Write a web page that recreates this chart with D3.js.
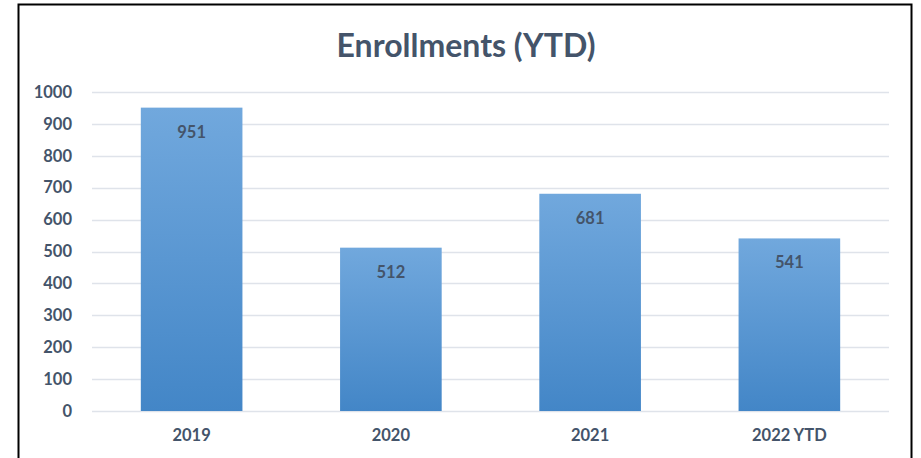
<!DOCTYPE html>
<html>
<head>
<meta charset="utf-8">
<script src="https://cdnjs.cloudflare.com/ajax/libs/d3/7.8.5/d3.min.js"></script>
<style>
  html, body { margin: 0; padding: 0; background: #fff; }
  svg { display: block; font-family: Lato, "Open Sans", sans-serif; }
</style>
</head>
<body>
<div id="chart"></div>
<script>
// Data
const categories = ['2019', '2020', '2021', '2022 YTD'];
const enrollments = [951, 512, 681, 541];
const yTicks = [0, 100, 200, 300, 400, 500, 600, 700, 800, 900, 1000];

const width = 921;
const height = 458;
const margin = { top: 92, right: 32, bottom: 47, left: 92 };
const textColor = '#44546a';
const fontStack = 'Lato, "Open Sans", sans-serif';

const svg = d3.select('#chart')
  .append('svg')
  .attr('width', width)
  .attr('height', height);

// gradient for bars
const grad = svg.append('defs').append('linearGradient')
  .attr('id', 'barGrad')
  .attr('x1', 0).attr('y1', 0).attr('x2', 0).attr('y2', 1);
grad.append('stop').attr('offset', '0%').attr('stop-color', '#71a8dd');
grad.append('stop').attr('offset', '100%').attr('stop-color', '#4386c7');

// chart frame
svg.append('rect')
  .attr('x', 18.5).attr('y', 4.5)
  .attr('width', 893).attr('height', 470)
  .attr('fill', '#fff')
  .attr('stroke', '#000')
  .attr('stroke-width', 2);

const x = d3.scaleBand()
  .domain(categories)
  .range([margin.left, width - margin.right])
  .paddingInner(0.49)
  .paddingOuter(0.245);

const y = d3.scaleLinear()
  .domain([0, 1000])
  .range([height - margin.bottom, margin.top]);

// gridlines
svg.append('g')
  .selectAll('line')
  .data(yTicks)
  .enter()
  .append('line')
  .attr('x1', margin.left)
  .attr('x2', width - margin.right)
  .attr('y1', d => Math.round(y(d)) + 0.5)
  .attr('y2', d => Math.round(y(d)) + 0.5)
  .attr('stroke', '#dfe3ea')
  .attr('stroke-width', 1.5);

// y axis labels
const yAxis = svg.append('g')
  .attr('transform', `translate(${margin.left - 20},0)`)
  .call(d3.axisLeft(y).tickValues(yTicks).tickFormat(d3.format('d')).tickSize(0).tickPadding(0));
yAxis.select('.domain').remove();
yAxis.selectAll('text')
  .attr('fill', textColor)
  .style('font-size', '16.5px')
  .style('font-weight', 'bold')
  .style('font-family', fontStack);

// bars
svg.append('g')
  .selectAll('rect')
  .data(enrollments)
  .enter()
  .append('rect')
  .attr('x', (d, i) => x(categories[i]))
  .attr('y', d => y(d))
  .attr('width', x.bandwidth())
  .attr('height', d => y(0) - y(d))
  .attr('fill', 'url(#barGrad)');

// value labels
svg.append('g')
  .selectAll('text')
  .data(enrollments)
  .enter()
  .append('text')
  .attr('x', (d, i) => x(categories[i]) + x.bandwidth() / 2)
  .attr('y', d => y(d) + 30)
  .attr('text-anchor', 'middle')
  .attr('fill', textColor)
  .style('font-size', '16.5px')
  .style('font-weight', 'bold')
  .text(d => d);

// x axis labels
const xAxis = svg.append('g')
  .attr('transform', `translate(0,${height - margin.bottom + 18})`)
  .call(d3.axisBottom(x).tickSize(0).tickPadding(0));
xAxis.select('.domain').remove();
xAxis.selectAll('text')
  .attr('fill', textColor)
  .style('font-size', '16.5px')
  .style('font-weight', 'bold')
  .style('font-family', fontStack);

// title
svg.append('text')
  .attr('x', 466)
  .attr('y', 57)
  .attr('text-anchor', 'middle')
  .attr('fill', textColor)
  .style('font-size', '32px')
  .style('font-weight', 'bold')
  .text('Enrollments (YTD)');
</script>
</body>
</html>
